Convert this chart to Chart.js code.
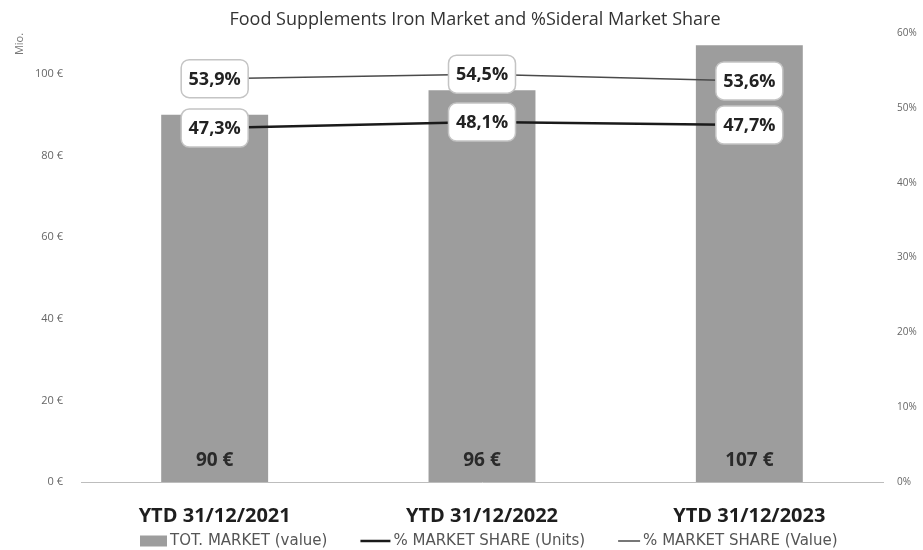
<!DOCTYPE html>
<html>
<head>
<meta charset="utf-8">
<title>Food Supplements Iron Market</title>
<script src="https://cdn.jsdelivr.net/npm/chart.js@4.4.0/dist/chart.umd.min.js"></script>
<style>
  html, body { margin: 0; padding: 0; background: #fff; }
  #wrap { width: 923px; height: 550px; }
</style>
</head>
<body>
<div id="wrap"><canvas id="chart"></canvas></div>
<script>
// Chart data
const categories = ['YTD 31/12/2021', 'YTD 31/12/2022', 'YTD 31/12/2023'];
const marketValue = [90, 96, 107];          // Mio. €
const shareUnits = [47.3, 48.1, 47.7];      // %
const shareValue = [53.9, 54.5, 53.6];      // %
const leftTicks = [0, 20, 40, 60, 80, 100];
const rightTicks = [0, 10, 20, 30, 40, 50, 60];

const TITLE = 'Food Supplements Iron Market and %Sideral Market Share';
const FONT = '"Open Sans", "Noto Sans", sans-serif';
const LEGEND_FONT = '"DejaVu Sans", "Open Sans", sans-serif';

function pct(v) {
    return v.toFixed(1).replace('.', ',') + '%';
}

// Title, boxed % labels, € labels inside bars, "Mio." unit and the legend
const labelPlugin = {
    id: 'boxLabels',
    afterDatasetsDraw(chart) {
        const ctx = chart.ctx;
        ctx.save();
        ctx.textAlign = 'center';
        ctx.textBaseline = 'middle';

        // boxed labels on the two lines
        [1, 2].forEach(i => {
            const meta = chart.getDatasetMeta(i);
            meta.data.forEach((pt, j) => {
                const w = 67, h = 38;
                ctx.beginPath();
                ctx.roundRect(pt.x - w / 2, pt.y - h / 2, w, h, 8);
                ctx.fillStyle = '#fff';
                ctx.fill();
                ctx.strokeStyle = '#c4c4c4';
                ctx.lineWidth = 1.5;
                ctx.stroke();
                ctx.fillStyle = '#222';
                ctx.font = 'bold 18px ' + FONT;
                ctx.fillText(pct(chart.data.datasets[i].data[j]), pt.x, pt.y + 1);
            });
        });

        // values at the foot of the bars
        const bars = chart.getDatasetMeta(0);
        const base = chart.scales.y.bottom;
        ctx.fillStyle = '#2a2a2a';
        ctx.font = 'bold 19px ' + FONT;
        bars.data.forEach((bar, j) => {
            ctx.fillText(marketValue[j] + ' €', bar.x, base - 21);
        });

        // title (sits a bit left of the canvas centre in the original)
        ctx.fillStyle = '#333';
        ctx.font = '18px ' + FONT;
        ctx.fillText(TITLE, 475, 20);

        // legend
        const ly = 541;
        let lx = 140;
        ctx.font = '15px ' + LEGEND_FONT;
        ctx.textAlign = 'left';
        chart.data.datasets.forEach(ds => {
            if (ds.type === 'bar') {
                ctx.fillStyle = ds.backgroundColor;
                ctx.fillRect(lx, ly - 5.5, 27, 11);
                lx += 27;
            } else {
                const len = ds.borderWidth > 2 ? 30 : 22;
                ctx.beginPath();
                ctx.moveTo(lx, ly);
                ctx.lineTo(lx + len, ly);
                ctx.strokeStyle = ds.borderColor;
                ctx.lineWidth = ds.borderWidth;
                ctx.stroke();
                lx += len;
            }
            lx += 3;
            ctx.fillStyle = '#555';
            ctx.fillText(ds.label, lx, ly);
            lx += ctx.measureText(ds.label).width + 33;
        });

        // unit label on the left axis
        ctx.translate(20, 44);
        ctx.rotate(-Math.PI / 2);
        ctx.fillStyle = '#777';
        ctx.font = '11px ' + FONT;
        ctx.textAlign = 'center';
        ctx.fillText('Mio.', 0, 0);

        ctx.restore();
    }
};

new Chart(document.getElementById('chart').getContext('2d'), {
    type: 'bar',
    data: {
        labels: categories,
        datasets: [
            {
                type: 'bar',
                label: 'TOT. MARKET (value)',
                data: marketValue,
                yAxisID: 'y',
                backgroundColor: '#9d9d9d',
                barPercentage: 0.8,
                categoryPercentage: 0.5,
                order: 3
            },
            {
                type: 'line',
                label: '% MARKET SHARE (Units)',
                data: shareUnits,
                yAxisID: 'y1',
                borderColor: '#1a1a1a',
                backgroundColor: '#1a1a1a',
                borderWidth: 2.5,
                pointRadius: 0,
                tension: 0,
                order: 1
            },
            {
                type: 'line',
                label: '% MARKET SHARE (Value)',
                data: shareValue,
                yAxisID: 'y1',
                borderColor: '#4a4a4a',
                backgroundColor: '#4a4a4a',
                borderWidth: 1.5,
                pointRadius: 0,
                tension: 0,
                order: 2
            }
        ]
    },
    options: {
        responsive: true,
        maintainAspectRatio: false,
        animation: false,
        layout: {
            padding: { left: 0, right: 0, top: 33, bottom: 0 }
        },
        plugins: {
            title: { display: false },
            legend: { display: false },
            tooltip: { enabled: false }
        },
        scales: {
            x: {
                grid: { display: false, drawTicks: false },
                border: { display: true, color: '#bdbdbd', width: 1 },
                ticks: {
                    color: '#1e1e1e',
                    font: { family: FONT, size: 20, weight: 'bold' },
                    padding: 22
                }
            },
            y: {
                position: 'left',
                min: 0,
                max: 110,
                grid: { display: false, drawTicks: false },
                border: { display: false },
                afterBuildTicks(scale) {
                    scale.ticks = leftTicks.map(v => ({ value: v }));
                },
                afterFit(scale) {
                    scale.width = 81;
                },
                ticks: {
                    color: '#666',
                    font: { family: FONT, size: 11 },
                    padding: 18,
                    callback: v => v + ' €'
                }
            },
            y1: {
                position: 'right',
                min: 0,
                max: 60,
                grid: { display: false, drawTicks: false },
                border: { display: false },
                afterBuildTicks(scale) {
                    scale.ticks = rightTicks.map(v => ({ value: v }));
                },
                afterFit(scale) {
                    scale.width = 40;
                },
                ticks: {
                    color: '#666',
                    font: { family: FONT, size: 10 },
                    padding: 14,
                    callback: v => v + '%'
                }
            }
        }
    },
    plugins: [labelPlugin]
});
</script>
</body>
</html>
